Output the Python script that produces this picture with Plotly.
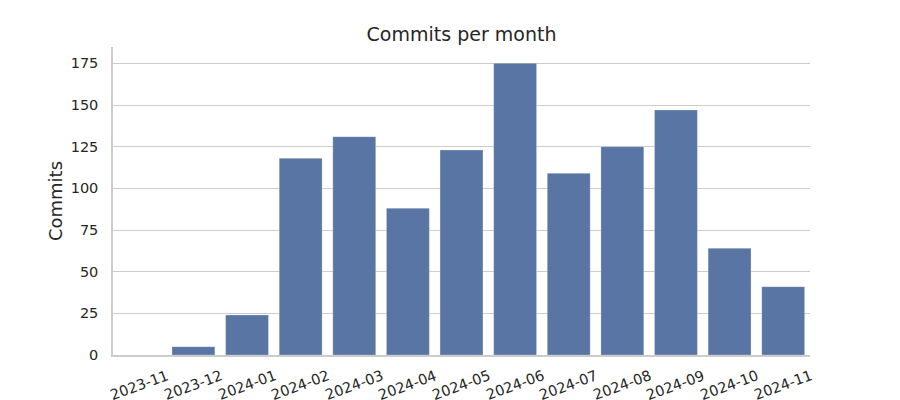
import plotly.graph_objects as go

months = ["2023-11", "2023-12", "2024-01", "2024-02", "2024-03", "2024-04", "2024-05",
          "2024-06", "2024-07", "2024-08", "2024-09", "2024-10", "2024-11"]
commits = [0, 5, 24, 118, 131, 88, 123, 175, 109, 125, 147, 64, 41]
y_ticks = [0, 25, 50, 75, 100, 125, 150, 175]

FONT = "DejaVu Sans"
TXT = "#262626"
GRID = "#cccccc"

fig = go.Figure(go.Bar(
    x=months, y=commits, width=0.8,
    marker=dict(color="#5975a4", line=dict(color="rgba(255,255,255,0.25)", width=1)),
))

fig.update_layout(
    width=900, height=400,
    margin=dict(l=113, r=90, t=47, b=45),
    paper_bgcolor="white", plot_bgcolor="white",
    font=dict(family=FONT, color=TXT, size=14),
    title=dict(text="Commits per month", x=0.5, xref="paper", xanchor="center",
               y=1 - 34 / 400, yref="container", yanchor="middle",
               font=dict(family=FONT, size=19, color=TXT)),
    showlegend=False,
    bargap=0.2,
)

fig.update_xaxes(
    type="category", categoryorder="array", categoryarray=months,
    range=[-0.5, len(months) - 0.5],
    showgrid=False, zeroline=False, automargin=False,
    showline=True, linecolor=GRID, linewidth=1.5,
    ticks="", showticklabels=False,
)
fig.update_yaxes(
    range=[0, 184.8], tickvals=y_ticks, automargin=False,
    showgrid=True, gridcolor=GRID, gridwidth=1,
    zeroline=False,
    showline=True, linecolor=GRID, linewidth=1.5,
    ticks="outside", ticklen=10, tickcolor="rgba(0,0,0,0)",
    tickfont=dict(family=FONT, size=14.5, color=TXT),
    title=dict(text="Commits", font=dict(family=FONT, size=18, color=TXT), standoff=3),
)

for m in months:
    fig.add_annotation(
        x=m, y=0, xref="x", yref="paper", text=m, showarrow=False,
        textangle=-20, xanchor="center", yanchor="middle", yshift=-30, xshift=0,
        borderpad=0,
        font=dict(family=FONT, size=14.5, color=TXT),
    )

fig.write_html("out.html")
